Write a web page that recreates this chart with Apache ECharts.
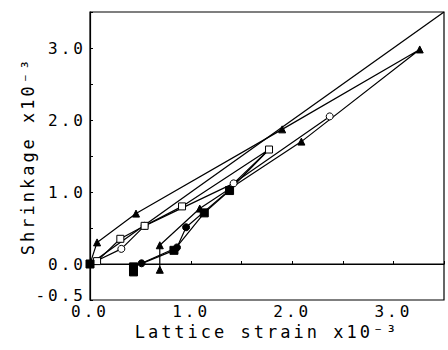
<!DOCTYPE html>
<html>
<head>
<meta charset="utf-8">
<script src="https://cdn.jsdelivr.net/npm/echarts@6/dist/echarts.min.js"></script>
<style>
  html, body { margin: 0; padding: 0; background: #fff; }
  #chart { width: 448px; height: 350px; }
  #chart text { letter-spacing: 3px; }
</style>
</head>
<body>
<div id="chart"></div>
<script>
// tick labels
const xTickLabels = ["0.0", "1.0", "2.0", "3.0"];
const yTickLabels = ["-0.5", "0.0", "1.0", "2.0", "3.0"];

// measured curves (x: lattice strain, y: shrinkage, both x10^-3)
const triangles = [[0, 0], [0.07, 0.30], [0.455, 0.70], [1.90, 1.87], [3.26, 2.98], [2.09, 1.70], [1.085, 0.77], [0.69, 0.26], [0.69, -0.08]];
const openCircles = [[0, 0], [0.31, 0.21], [0.54, 0.53], [1.42, 1.12], [2.37, 2.05]];
const openSquares = [[0, 0], [0.07, 0.04], [0.30, 0.35], [0.54, 0.53], [0.91, 0.80], [1.77, 1.59], [1.42, 1.12]];
const filledCircles = [[0.51, 0.01], [0.86, 0.23], [0.95, 0.51], [1.38, 1.03], [1.77, 1.59]];
const filledSquares = [[0.43, -0.11], [0.43, -0.04], [0.83, 0.19], [1.13, 0.71], [1.38, 1.02]];
const originPoint = [[0, 0]];

// reference lines
const diagonal = [[0, 0], [3.5, 3.5]];
const zeroLine = [[0, 0], [3.5, 0]];

const font = "DejaVu Sans Mono";

function pickLabel(list, v) {
  const hit = list.find((s) => Math.abs(Number(s) - v) < 1e-9);
  return hit || "";
}

// points drawn without their own marker
function noMarkAt(data, idx) {
  return data.map((p, i) => (idx.includes(i) ? { value: p, symbol: "none" } : p));
}

function curve(name, data, symbol, filled, size) {
  return {
    name,
    type: "line",
    data,
    symbol,
    symbolSize: size,
    showAllSymbol: true,
    lineStyle: { color: "#000", width: 1.2 },
    itemStyle: {
      color: filled ? "#000" : "#fff",
      borderColor: "#000",
      borderWidth: 1,
    },
    z: 3,
    animation: false,
  };
}

const chart = echarts.init(document.getElementById("chart"), null, { renderer: "svg" });
chart.setOption({
  backgroundColor: "#fff",
  animation: false,
  grid: {
    left: 90,
    right: 4,
    top: 12,
    bottom: 50,
    show: true,
    borderColor: "#000",
    borderWidth: 1.2,
  },
  xAxis: {
    type: "value",
    min: 0,
    max: 3.5,
    interval: 0.5,
    name: "Lattice strain x10⁻³",
    nameLocation: "middle",
    nameGap: 18,
    nameTextStyle: { fontFamily: font, fontSize: 17, color: "#000" },
    axisLine: { lineStyle: { color: "#000", width: 1.2 } },
    axisTick: { inside: true, length: 3, lineStyle: { color: "#000" } },
    splitLine: { show: false },
    axisLabel: {
      fontFamily: font,
      fontSize: 16,
      color: "#000",
      margin: 3,
      formatter: (v) => pickLabel(xTickLabels, v),
    },
  },
  yAxis: {
    type: "value",
    min: -0.5,
    max: 3.5,
    interval: 0.5,
    name: "Shrinkage x10⁻³",
    nameLocation: "middle",
    nameGap: 54,
    nameTextStyle: { fontFamily: font, fontSize: 17, color: "#000" },
    axisLine: { lineStyle: { color: "#000", width: 1.2 } },
    axisTick: { inside: true, length: 3, lineStyle: { color: "#000" } },
    splitLine: { show: false },
    axisLabel: {
      fontFamily: font,
      fontSize: 16,
      color: "#000",
      margin: 4,
      formatter: (v) => {
        const s = pickLabel(yTickLabels, v);
        return v < 0 ? "{lo|" + s + "}" : s;
      },
      rich: {
        lo: { fontFamily: font, fontSize: 16, color: "#000", padding: [0, 0, 9, 0] },
      },
    },
  },
  series: [
    {
      type: "line",
      data: diagonal,
      symbol: "none",
      lineStyle: { color: "#000", width: 1.3 },
      z: 2,
    },
    {
      type: "line",
      data: zeroLine,
      symbol: "none",
      lineStyle: { color: "#000", width: 1.2 },
      z: 2,
    },
    curve("triangles", noMarkAt(triangles, [0]), "triangle", true, 7),
    curve("openCircles", noMarkAt(openCircles, [0]), "circle", false, 7),
    curve("openSquares", noMarkAt(openSquares, [0, 6]), "rect", false, 7),
    curve("filledCircles", noMarkAt(filledCircles, [4]), "circle", true, 7),
    curve("filledSquares", filledSquares, "rect", true, 8),
    curve("origin", originPoint, "rect", true, 8),
  ],
});
</script>
</body>
</html>
